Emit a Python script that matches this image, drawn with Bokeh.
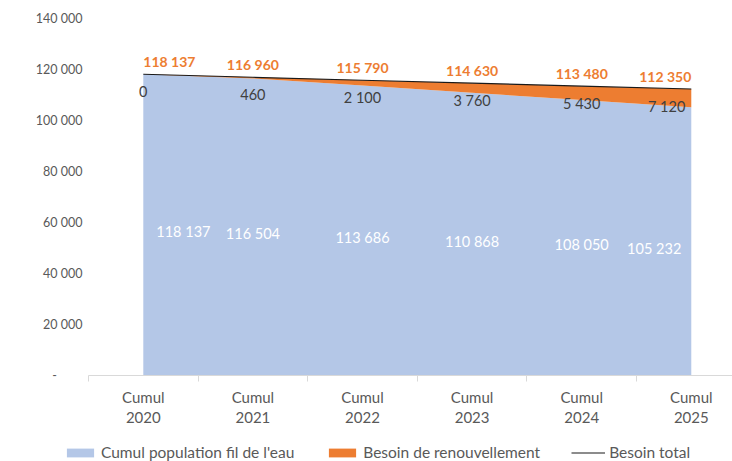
from bokeh.plotting import figure
from bokeh.layouts import column
from bokeh.models import ColumnDataSource, Range1d, FixedTicker, LinearAxis, Legend, LegendItem
from bokeh.core.properties import value
from bokeh.embed import file_html
from bokeh.resources import INLINE

categories = ["Cumul 2020", "Cumul 2021", "Cumul 2022", "Cumul 2023", "Cumul 2024", "Cumul 2025"]
cumul_population = [118137, 116504, 113686, 110868, 108050, 105232]
besoin_renouvellement = [0, 460, 2100, 3760, 5430, 7120]
besoin_total = [118137, 116960, 115790, 114630, 113480, 112350]
y_ticks = [0, 20000, 40000, 60000, 80000, 100000, 120000, 140000]
series_names = ["Cumul population fil de l'eau", "Besoin de renouvellement", "Besoin total"]

FONT = "Lato"
GREY_TXT = "#595959"
BLUE = "#B4C7E7"
ORANGE = "#ED7D31"
LINE = "#1a1a1a"


def fmt(v):
    return f"{v:,}".replace(",", " ")


n = len(categories)
xs = list(range(n))
end_align = ["left"] + ["center"] * (n - 2) + ["right"]
last_right = ["center"] * (n - 1) + ["right"]
inset = [13] + [0] * (n - 2) + [-10]
inset_last = [0] * (n - 1) + [-6]

src = ColumnDataSource(dict(
    x=xs,
    pop=cumul_population,
    ren=besoin_renouvellement,
    tot=besoin_total,
    pop_half=[v / 2 for v in cumul_population],
    pop_lbl=[fmt(v) for v in cumul_population],
    ren_lbl=[fmt(v) for v in besoin_renouvellement],
    tot_lbl=[fmt(v) for v in besoin_total],
    end_align=end_align,
    last_right=last_right,
    inset=inset,
    inset_last=inset_last,
))

p = figure(width=732, height=440, output_backend="svg", toolbar_location=None,
           x_range=Range1d(-0.5, 5.376), y_range=Range1d(0, 140000),
           x_axis_location=None, y_axis_location=None,
           min_border_left=88, min_border_right=0, min_border_top=18, min_border_bottom=65)
p.outline_line_color = None
p.background_fill_color = "white"
p.border_fill_color = "white"
p.grid.visible = False

areas = p.varea_stack(["pop", "ren"], x="x", source=src, color=[BLUE, ORANGE])
line = p.line("x", "tot", source=src, line_color=LINE, line_width=1.2)

# data labels
p.text(x="x", y="pop_half", text="pop_lbl", source=src, text_align="end_align", text_baseline="middle",
       x_offset="inset", y_offset=7, text_color="white", text_font_size="14.5px", text_font=value(FONT))
p.text(x="x", y="tot", text="ren_lbl", source=src, text_align="last_right", text_baseline="middle",
       x_offset="inset_last", y_offset=17, text_color="#404040", text_font_size="14.5px",
       text_font=value(FONT))
p.text(x="x", y="tot", text="tot_lbl", source=src, text_align="end_align", text_baseline="middle",
       y_offset=-13, text_color=ORANGE, text_font_style="bold", text_font_size="14px",
       text_font=value(FONT))

# y axis
yax = LinearAxis(ticker=FixedTicker(ticks=y_ticks))
yax.major_label_overrides = {t: (fmt(t) if t else "-\u00a0\u00a0\u00a0\u00a0\u00a0\u00a0\u00a0\u00a0") for t in y_ticks}
yax.axis_line_color = None
yax.major_tick_line_color = None
yax.minor_tick_line_color = None
yax.major_tick_out = 0
yax.major_label_standoff = 6
yax.major_label_text_color = GREY_TXT
yax.major_label_text_font = FONT
yax.major_label_text_font_size = "12.5px"
p.add_layout(yax, "left")

# x axes (two-line category labels)
first = {i: c.split(" ")[0] for i, c in enumerate(categories)}
second = {i: c.split(" ")[1] for i, c in enumerate(categories)}
bounds = [i - 0.5 for i in range(n + 1)]

ax1 = LinearAxis(ticker=FixedTicker(ticks=xs, minor_ticks=bounds), major_label_overrides=first)
ax1.axis_line_color = "#D9D9D9"
ax1.major_tick_line_color = None
ax1.major_tick_out = 0
ax1.major_tick_in = 0
ax1.minor_tick_line_color = "#D9D9D9"
ax1.minor_tick_out = 6
ax1.minor_tick_in = 0
ax1.major_label_standoff = 6
ax1.major_label_text_color = GREY_TXT
ax1.major_label_text_font = FONT
ax1.major_label_text_font_size = "15px"
p.add_layout(ax1, "below")

ax2 = LinearAxis(ticker=FixedTicker(ticks=xs, minor_ticks=[]), major_label_overrides=second)
ax2.axis_line_color = None
ax2.major_tick_line_color = None
ax2.minor_tick_line_color = None
ax2.major_tick_out = 0
ax2.major_tick_in = 0
ax2.major_label_standoff = 3
ax2.major_label_text_color = GREY_TXT
ax2.major_label_text_font = FONT
ax2.major_label_text_font_size = "15px"
p.add_layout(ax2, "below")

# legend strip: a small figure whose view range lies away from the data,
# so its renderers only supply the legend swatches
lg = figure(width=732, height=21, output_backend="svg", toolbar_location=None,
            x_axis_location=None, y_axis_location=None,
            min_border_left=0, min_border_right=0, min_border_top=0, min_border_bottom=0,
            x_range=Range1d(100, 101), y_range=Range1d(0, 1))
lg.frame_align = False
lg.outline_line_color = None
lg.grid.visible = False
lr = lg.varea_stack(["pop", "ren"], x="x", source=src, color=[BLUE, ORANGE])
lline = lg.line("x", "tot", source=src, line_color=LINE, line_width=1.2)

legend = Legend(items=[
    LegendItem(label=series_names[0], renderers=[lr[0]]),
    LegendItem(label=series_names[1], renderers=[lr[1]]),
    LegendItem(label=series_names[2], renderers=[lline]),
], orientation="horizontal", location=(63, 0))
legend.padding = 0
legend.margin = 0
legend.spacing = 31
legend.glyph_width = 34
legend.glyph_height = 11
legend.label_standoff = 4
legend.label_text_font = FONT
legend.label_text_font_size = "15.5px"
legend.label_text_color = GREY_TXT
legend.border_line_color = None
legend.background_fill_alpha = 0
lg.add_layout(legend)

layout = column(p, lg, spacing=0)
open("out.html", "w").write(file_html(layout, INLINE))
